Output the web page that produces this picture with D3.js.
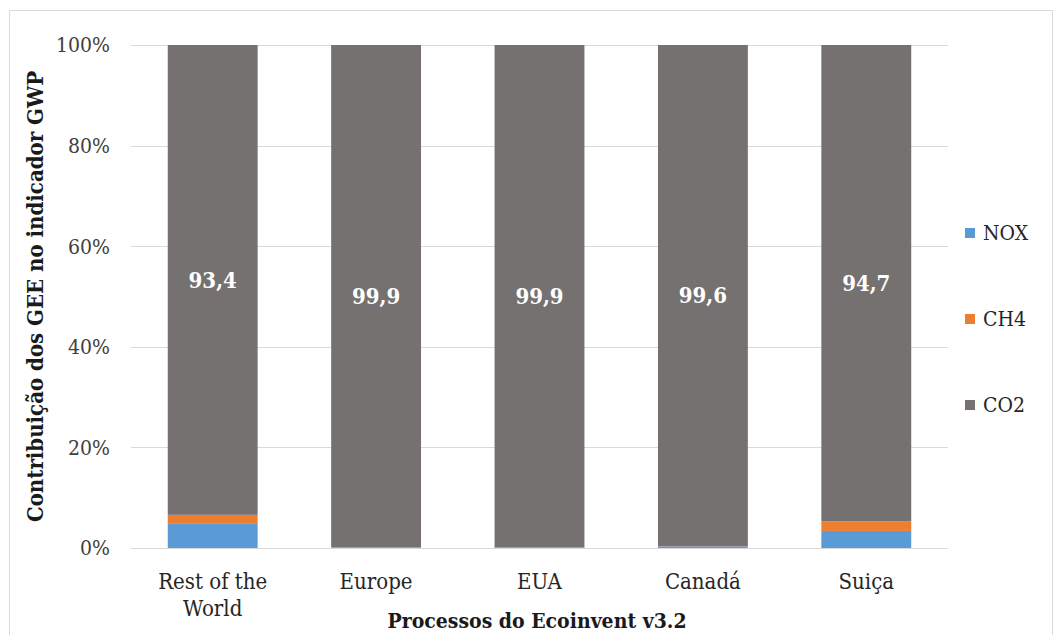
<!DOCTYPE html>
<html>
<head>
<meta charset="utf-8">
<script src="https://cdn.jsdelivr.net/npm/d3@7"></script>
<style>
  body { margin: 0; background: #fff; }
  svg text { font-family: "DejaVu Serif Condensed", "DejaVu Serif", serif; }
</style>
</head>
<body>
<div id="chart"></div>
<script>
const categories = ["Rest of the World", "Europe", "EUA", "Canadá", "Suiça"];
const seriesNames = ["NOX", "CH4", "CO2"];
const nox = [4.8, 0.05, 0.05, 0.35, 3.4];
const ch4 = [1.8, 0.05, 0.05, 0.05, 1.9];
const co2 = [93.4, 99.9, 99.9, 99.6, 94.7];
const co2Labels = ["93,4", "99,9", "99,9", "99,6", "94,7"];
const yTicks = [0, 20, 40, 60, 80, 100];

const colors = { NOX: "#5B9BD5", CH4: "#ED7D31", CO2: "#767171" };

const width = 1062, height = 635;
const margin = { top: 45, right: 114, bottom: 87, left: 131 };

const svg = d3.select("#chart").append("svg")
  .attr("width", width)
  .attr("height", height);

// outer chart border
svg.append("rect")
  .attr("x", 9.5).attr("y", 10.5)
  .attr("width", 1043).attr("height", 640)
  .attr("fill", "none")
  .attr("stroke", "#d9d9d9");

const x = d3.scaleBand()
  .domain(categories)
  .range([margin.left, width - margin.right])
  .paddingInner(0.45)
  .paddingOuter(0.225);

const y = d3.scaleLinear()
  .domain([0, 100])
  .range([height - margin.bottom, margin.top]);

// gridlines
svg.append("g")
  .selectAll("line")
  .data(yTicks)
  .join("line")
  .attr("x1", margin.left)
  .attr("x2", width - margin.right)
  .attr("y1", d => Math.round(y(d)) + 0.5)
  .attr("y2", d => Math.round(y(d)) + 0.5)
  .attr("stroke", "#d9d9d9")
  .attr("stroke-width", 1);

// y tick labels
svg.append("g")
  .selectAll("text")
  .data(yTicks)
  .join("text")
  .attr("x", 110)
  .attr("y", d => y(d))
  .attr("dy", "0.35em")
  .attr("text-anchor", "end")
  .attr("font-size", 21)
  .attr("fill", "#404040")
  .text(d => d + "%");

// stacked data
const rows = categories.map((c, i) => ({ cat: c, NOX: nox[i], CH4: ch4[i], CO2: co2[i] }));
const stack = d3.stack().keys(seriesNames)(rows);

svg.append("g")
  .selectAll("g")
  .data(stack)
  .join("g")
  .attr("fill", d => colors[d.key])
  .selectAll("rect")
  .data(d => d)
  .join("rect")
  .attr("x", d => x(d.data.cat))
  .attr("width", x.bandwidth())
  .attr("y", d => y(d[1]))
  .attr("height", d => y(d[0]) - y(d[1]));

// CO2 value labels
const co2Layer = stack[2];
svg.append("g")
  .selectAll("text")
  .data(co2Layer)
  .join("text")
  .attr("x", d => x(d.data.cat) + x.bandwidth() / 2)
  .attr("y", d => y((d[0] + d[1]) / 2))
  .attr("dy", "0.35em")
  .attr("text-anchor", "middle")
  .attr("font-size", 22)
  .attr("font-weight", "bold")
  .attr("fill", "#ffffff")
  .text((d, i) => co2Labels[i]);

// x category labels
const xl = svg.append("g")
  .selectAll("text")
  .data(categories)
  .join("text")
  .attr("x", d => x(d) + x.bandwidth() / 2)
  .attr("y", 589)
  .attr("text-anchor", "middle")
  .attr("font-size", 22)
  .attr("fill", "#262626");
xl.each(function (d) {
  const t = d3.select(this);
  const parts = d === "Rest of the World" ? ["Rest of the", "World"] : [d];
  parts.forEach((p, k) => {
    t.append("tspan")
      .attr("x", x(d) + x.bandwidth() / 2)
      .attr("dy", k === 0 ? 0 : 27)
      .text(p);
  });
});

// axis titles
svg.append("text")
  .attr("x", 537)
  .attr("y", 628)
  .attr("text-anchor", "middle")
  .attr("font-size", 21)
  .attr("font-weight", "bold")
  .attr("fill", "#1a1a1a")
  .text("Processos do Ecoinvent v3.2");

svg.append("text")
  .attr("transform", "translate(43," + (y(50)) + ") rotate(-90)")
  .attr("text-anchor", "middle")
  .attr("font-size", 22)
  .attr("font-weight", "bold")
  .attr("fill", "#1a1a1a")
  .text("Contribuição dos GEE no indicador  GWP");

// legend
const legendY = [233, 319, 405];
const legend = svg.append("g")
  .selectAll("g")
  .data(seriesNames)
  .join("g")
  .attr("transform", (d, i) => "translate(965," + legendY[i] + ")");
legend.append("rect")
  .attr("x", 0).attr("y", -5)
  .attr("width", 10).attr("height", 10)
  .attr("fill", d => colors[d]);
legend.append("text")
  .attr("x", 18)
  .attr("dy", "0.35em")
  .attr("font-size", 21)
  .attr("fill", "#262626")
  .text(d => d);
</script>
</body>
</html>
